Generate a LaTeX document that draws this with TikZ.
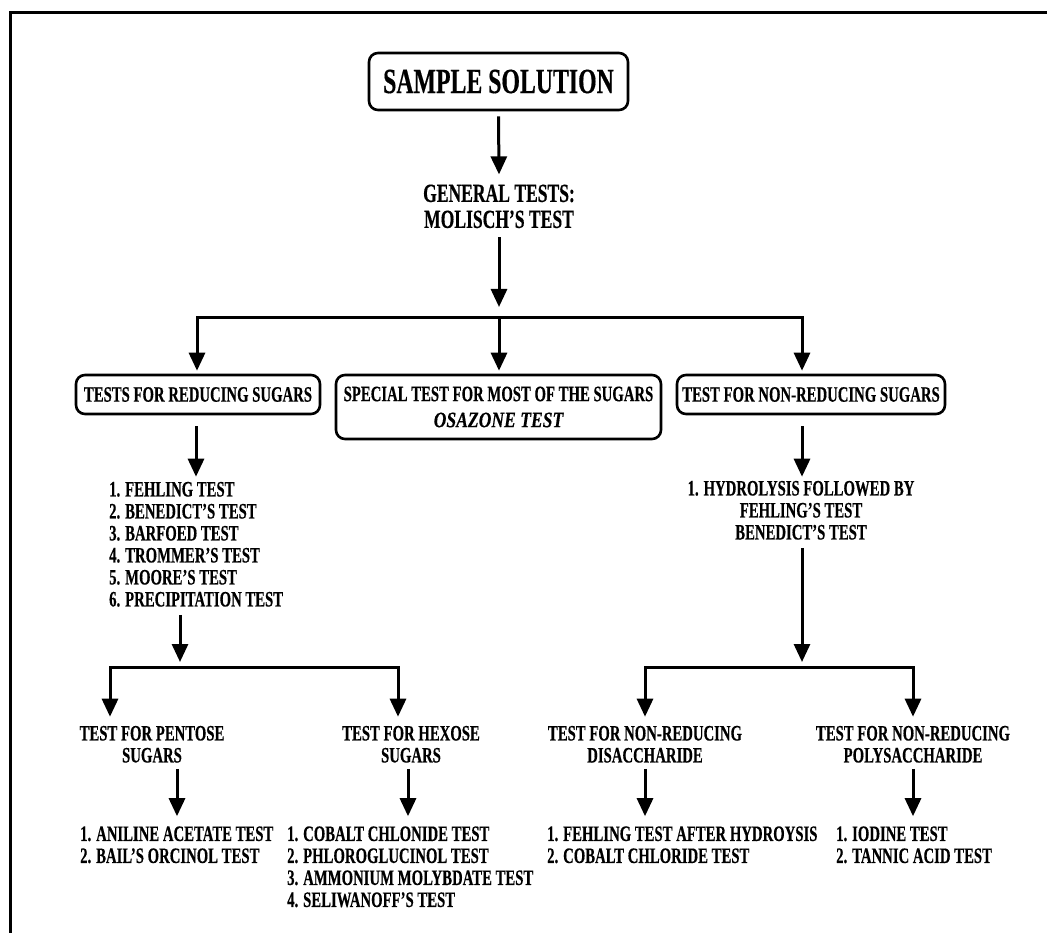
\documentclass[tikz,border=0pt]{standalone}
\usepackage{fontspec}
\setmainfont{Liberation Serif}[FakeStretch=0.67,FakeBold=0.4]
\newfontfamily\osafont{Liberation Serif}[FakeStretch=0.8,FakeBold=0.4]
\usetikzlibrary{arrows.meta}
\tikzset{
  txt/.style={font=\bfseries\fontsize{22}{22}\selectfont, inner sep=0pt},
  boxed/.style={draw, line width=2.6pt, rounded corners=9pt, inner sep=0pt, align=center},
  arr/.style={line width=3pt, -{Triangle[width=16pt,length=18pt]}},
  arrs/.style={line width=3pt, {Triangle[width=16pt,length=18pt]}-{Triangle[width=16pt,length=18pt]}},
}
\begin{document}
\begin{tikzpicture}[x=1pt,y=-1pt]
\useasboundingbox (0,0) rectangle (1047,933);
\draw[line width=3pt] (1047,12.7) -- (10,12.7) -- (10,933);

% top
\node[boxed, minimum width=259pt, minimum height=57pt, font=\bfseries\fontsize{35.5}{38}\selectfont] (title) at (498.5,81.5) {SAMPLE SOLUTION};
\node[txt, align=center, anchor=north, font=\bfseries\fontsize{26.2}{26}\selectfont] (gen) at (499,184.4) {GENERAL TESTS:\\MOLISCH’S TEST};
\draw[arr] ([yshift=-5pt]title.south) -- ([yshift=10pt]gen.north);

\coordinate (bar) at (499,318);
\coordinate (jL) at (197,318);
\coordinate (jR) at (802,318);
\draw[arr] ([yshift=-9pt]gen.south) -- ([yshift=11pt]gen.south |- bar);

% second row boxes
\node[boxed, txt, minimum width=244pt, minimum height=39pt] (red) at (198,394.5) {TESTS FOR REDUCING SUGARS};
\node[boxed, txt, minimum width=325pt, minimum height=64pt, font=\bfseries\fontsize{22}{26}\selectfont] (spec) at (498.5,407) {SPECIAL TEST FOR MOST OF THE SUGARS\\{\osafont\bfseries\itshape OSAZONE TEST}};
\node[boxed, txt, minimum width=268pt, minimum height=39pt] (nonred) at (811,394.5) {TEST FOR NON-REDUCING SUGARS};

\draw[arrs] ([yshift=3pt]jL |- red.north) -- (jL) -- (jR) -- ([yshift=3pt]jR |- nonred.north);
\draw[arr] (bar) -- ([yshift=3pt]bar |- spec.north);

% left branch
\node[txt, align=left, anchor=north west] (rl) at (109,481.7) {1. FEHLING TEST\\2. BENEDICT’S TEST\\3. BARFOED TEST\\4. TROMMER’S TEST\\5. MOORE’S TEST\\6. PRECIPITATION TEST};
\coordinate (xr) at (196,0);
\draw[arr] ([yshift=-11pt]xr |- red.south) -- ([yshift=5pt]xr |- rl.north);

\coordinate (bL) at (180,667);
\coordinate (bLa) at (110,667);
\coordinate (bLb) at (398,667);
\draw[arr] ([yshift=-8pt]bL |- rl.south) -- ([yshift=5pt]bL);

\node[txt, align=center, anchor=north] (pent) at (152,725.7) {TEST FOR PENTOSE\\SUGARS};
\node[txt, align=center, anchor=north] (hex) at (411,725.7) {TEST FOR HEXOSE\\SUGARS};
\draw[arrs] ([yshift=9pt]bLa |- pent.north) -- (bLa) -- (bLb) -- ([yshift=9pt]bLb |- hex.north);

\node[txt, align=left, anchor=north west] (pl) at (80,826.2) {1. ANILINE ACETATE TEST\\2. BAIL’S ORCINOL TEST};
\node[txt, align=left, anchor=north west] (hl) at (287,826.2) {1. COBALT CHLONIDE TEST\\2. PHLOROGLUCINOL TEST\\3. AMMONIUM MOLYBDATE TEST\\4. SELIWANOFF’S TEST};
\coordinate (xp) at (177,0);
\coordinate (xh) at (408,0);
\draw[arr] ([yshift=-6pt]xp |- pent.south) -- ([yshift=10pt]xp |- pl.north);
\draw[arr] ([yshift=-6pt]xh |- hex.south) -- ([yshift=10pt]xh |- hl.north);

% right branch
\node[txt, align=center, anchor=north] (hyd) at (801,480.7) {1. HYDROLYSIS FOLLOWED BY\\FEHLING’S TEST\\BENEDICT’S TEST};
\draw[arr] ([yshift=-11pt]jR |- nonred.south) -- ([yshift=4pt]jR |- hyd.north);

\coordinate (bR) at (802,667);
\coordinate (bRa) at (645,667);
\coordinate (bRb) at (913,667);
\draw[arr] ([yshift=-8pt]bR |- hyd.south) -- ([yshift=5pt]bR);

\node[txt, align=center, anchor=north] (dis) at (645,725.7) {TEST FOR NON-REDUCING\\DISACCHARIDE};
\node[txt, align=center, anchor=north] (poly) at (913,725.7) {TEST FOR NON-REDUCING\\POLYSACCHARIDE};
\draw[arrs] ([yshift=9pt]bRa |- dis.north) -- (bRa) -- (bRb) -- ([yshift=9pt]bRb |- poly.north);

\node[txt, align=left, anchor=north west] (dl) at (547,826.2) {1. FEHLING TEST AFTER HYDROYSIS\\2. COBALT CHLORIDE TEST};
\node[txt, align=left, anchor=north west] (pol) at (836,826.2) {1. IODINE TEST\\2. TANNIC ACID TEST};
\draw[arr] ([yshift=-6pt]bRa |- dis.south) -- ([yshift=10pt]bRa |- dl.north);
\draw[arr] ([yshift=-6pt]bRb |- poly.south) -- ([yshift=10pt]bRb |- pol.north);
\end{tikzpicture}
\end{document}
